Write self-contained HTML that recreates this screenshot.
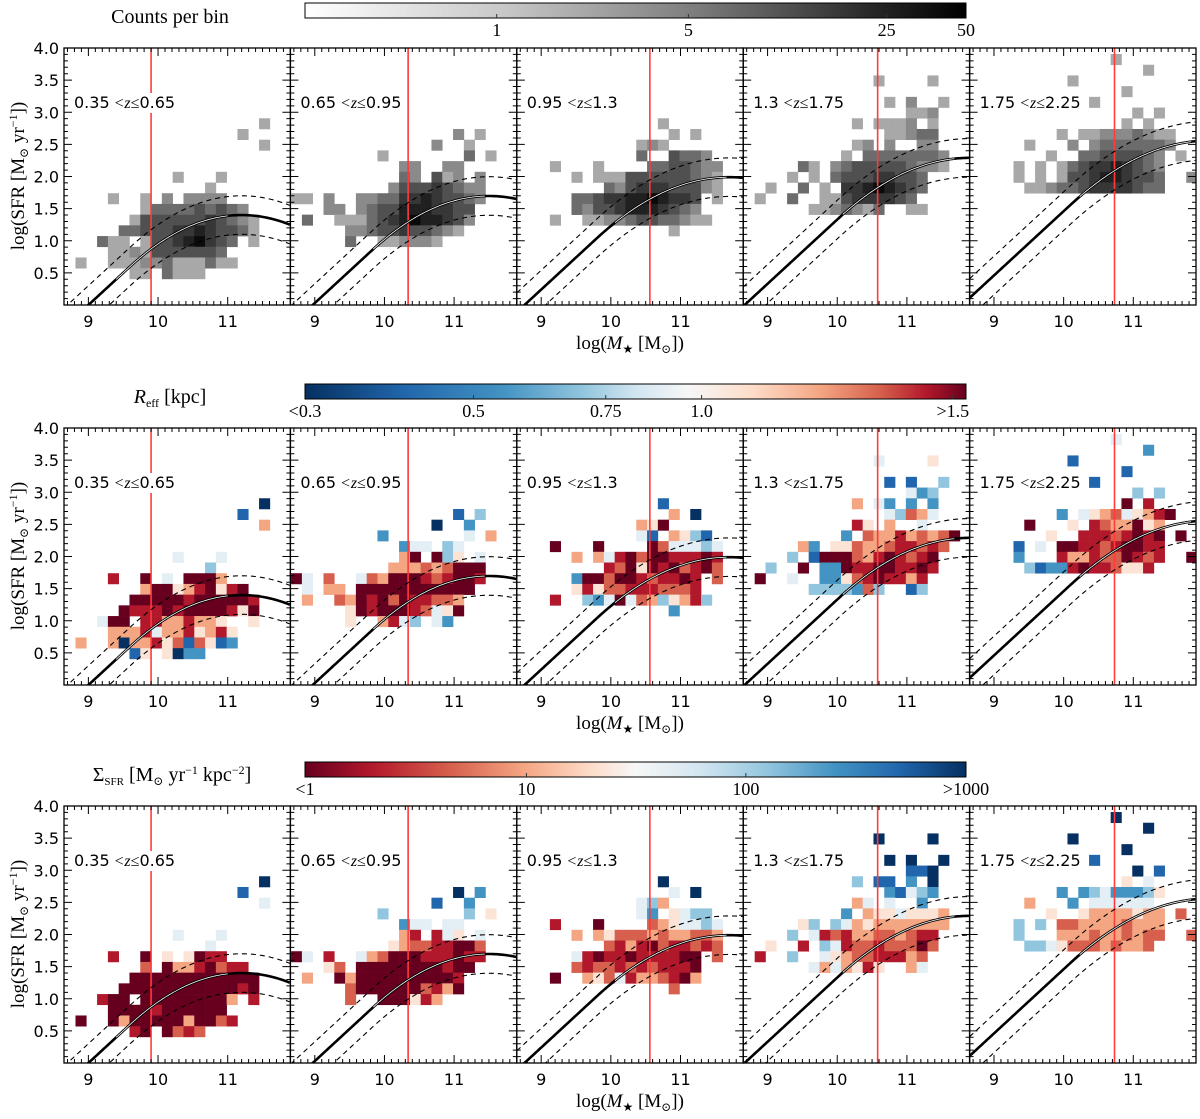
<!DOCTYPE html>
<html><head><meta charset="utf-8">
<style>
html,body{margin:0;padding:0;background:#fff;}
svg{display:block;}
.tk{font-family:"DejaVu Sans","Liberation Sans",sans-serif;font-size:16px;fill:#000;}
.sf{font-family:"Liberation Serif","DejaVu Serif",serif;fill:#000;}
</style></head>
<body>
<svg id="fig" width="1200" height="1119" viewBox="0 0 1200 1119" xmlns="http://www.w3.org/2000/svg">
<defs>
<linearGradient id="gCounts" x1="0" x2="1" y1="0" y2="0">
<stop offset="0" stop-color="#ffffff"/><stop offset="0.3" stop-color="#c8c8c8"/><stop offset="0.6" stop-color="#7a7a7a"/><stop offset="0.85" stop-color="#2a2a2a"/><stop offset="1" stop-color="#000000"/>
</linearGradient>
<linearGradient id="gReff" x1="0" x2="1" y1="0" y2="0">
<stop offset="0" stop-color="#053061"/><stop offset="0.15" stop-color="#2166ac"/><stop offset="0.3" stop-color="#4393c3"/><stop offset="0.42" stop-color="#92c5de"/><stop offset="0.5" stop-color="#d1e5f0"/><stop offset="0.58" stop-color="#f7f7f7"/><stop offset="0.68" stop-color="#fddbc7"/><stop offset="0.78" stop-color="#f4a582"/><stop offset="0.87" stop-color="#d6604d"/><stop offset="0.94" stop-color="#b2182b"/><stop offset="1" stop-color="#67001f"/>
</linearGradient>
<linearGradient id="gSig" x1="0" x2="1" y1="0" y2="0">
<stop offset="0" stop-color="#67001f"/><stop offset="0.1" stop-color="#b2182b"/><stop offset="0.22" stop-color="#d6604d"/><stop offset="0.33" stop-color="#f4a582"/><stop offset="0.43" stop-color="#fddbc7"/><stop offset="0.5" stop-color="#f7f7f7"/><stop offset="0.6" stop-color="#d1e5f0"/><stop offset="0.7" stop-color="#92c5de"/><stop offset="0.8" stop-color="#4393c3"/><stop offset="0.9" stop-color="#2166ac"/><stop offset="1" stop-color="#053061"/>
</linearGradient>
</defs>
<g id="layer"></g>
</svg>
<script>
// ---- data ----
const zLabels = ["0.35", "0.65", "0.95", "1.3", "1.75", "2.25"];
const redLineX = [9.9, 10.34, 10.56, 10.58, 10.73];
const msOffset = [0.0, 0.03, 0.24, 0.33, 0.46];
const msPeak = [11.2, 11.5, 11.7, 11.9, 12.1];
const msCurv = [0.3125, 0.3, 0.263, 0.266, 0.25];
const msScatter = 0.3;
const xTicks = [9, 10, 11];
const yTicks = [0.5, 1.0, 1.5, 2.0, 2.5, 3.0, 3.5, 4.0];
const countsTickVals = ["1", "5", "25", "50"];
const countsTickFrac = [0.29, 0.58, 0.88, 1.0];
const reffTickVals = ["<0.3", "0.5", "0.75", "1.0", ">1.5"];
const reffTickFrac = [0.0, 0.255, 0.455, 0.6, 0.98];
const sigTickVals = ["<1", "10", "100", ">1000"];
const sigTickFrac = [0.0, 0.335, 0.667, 1.0];
// cells: "row,startCol,values" (row/col = bin index; '.' = empty bin)
const countsCells = [
 ["16,18,3","15,16,3","14,18,3","11,10,3...3","10,13,3","9,4,3..3.4.4444","8,7,3555565654","7,6,366666676543","6,5,5566677876653","5,3,533.366789765.3","4,4,33436666665","3,1,3..333445333533","2,6,33.5333"],
 ["15,15,4.3","14,13,4..3","13,8,3.......5.3","12,10,44..44","11,10,54.634.4","10,9,466676544","9,0,33.4..445577876654","8,3,44.45668887766","7,1,5..3335678988764","6,5,44566766543","5,5,5..334443"],
 ["16,13,3","15,14,3.3","14,11,343","13,11,5..6554","12,3,3...3....5566544","11,5,3.333666666543","10,8,54677766643","9,5,556778898776.3","8,5,546678887654","7,3,3..334456655433","6,14,3"],
 ["20,12,3....3","18,13,3.4..3","17,15,334","16,10,3.3334.3","15,13,33455","14,10,34.4..44","13,9,3.55555554","12,5,53.45666665443","11,4,3.3.566677665","10,2,3..5.3.77898765","9,1,3..5..336777765","8,6,3345435..33"],
 ["22,13,3","21,16,3","20,9,3","19,14,3","18,11,3","17,15,3.3","16,14,3.3","15,8,3.334445433","14,5,3...4.45555554","13,7,3..55666654.3","12,4,3.3.3567787654","11,4,3.3.3667887665..4","10,5,3345567777655"]
];
const reffCells = [
 ["16,18,0","15,16,1","14,18,6","11,10,4...4","10,13,3","9,4,8..9.4.9996","8,7,6995689589","7,6,999998999998","6,5,9888989999859","5,3,499.88668665..5","4,4,666846685685","3,1,6..606685717512","2,6,15.5022"],
 ["15,15,1.3","14,13,0..2","13,8,2.......4.6","12,10,244.34","11,10,69.935.4","10,9,666767999","9,0,94.7..476999878998","8,1,4.66.99999999999","7,1,6..769897988776","6,5,59899987459","5,5,5..6843.42"],
 ["16,13,1","15,14,6.0","14,11,659","13,11,41.6531","12,3,9...9....9744434","11,5,6.648979988898","10,8,87959897897","9,5,299799878898.7","8,5,585778887778","7,3,8..324947635683","6,14,2"],
 ["20,12,4....5","18,13,1.1..3","17,15,423","16,10,6.42.2.2","15,13,43764","14,10,85.6..4","13,9,2.766867679","12,5,62.55766788787","11,4,3.199976898789","10,2,3..9.22988998898","9,1,9..4..2257898868","8,6,3333273..13"],
 ["22,13,4","21,16,2","20,9,1","19,14,1","18,11,1","17,15,3.3","16,14,9.8","15,8,2.456745689","14,5,9...5.8766956","13,7,5..88878989.9","12,4,1.4.9988789988","11,4,2...8668779878..9","10,5,312289887558"]
];
const sigmaCells = [
 ["16,18,0","15,16,1","14,18,4","11,10,4...4","10,13,4","9,4,8..9.5.5988","8,7,7.96689788","7,6,999999999999","6,5,9999999999989","5,3,899.999999996.8","4,4,99998999999","3,1,9..969999969978","2,6,89.9787"],
 ["15,15,0.2","14,13,1..2","13,8,3.......3.5","12,10,244.44","11,10,68.845.4","10,9,567788997","9,0,94.8..467999888988","8,3,57.99999999899","7,1,6..969999999998","6,5,79999997869","5,5,7..999586"],
 ["16,13,0","15,14,4.0","14,11,436","13,11,42.5433","12,3,8...9....7654434","11,5,6.657776766776","10,8,78689788787","9,5,489889888899.7","8,5,787787878889","7,3,9..65748667896","6,14,7"],
 ["20,12,0....0","18,13,0.0..0","17,15,110","16,10,3.11.2.0","15,13,21432","14,10,64.4..2","13,9,2.65545556","12,5,53.34656666666","11,4,3.487866776788","10,2,5..8.34877877797","9,1,8..3..4567788867","8,6,4646585..64"],
 ["22,13,0","21,16,0","20,9,0","19,14,0","18,11,1","17,15,0.1","16,14,5.4","15,8,2.23422235","14,5,6...2.444444","13,7,5..56666566.7","12,4,3.3.7766667666","11,4,3...6667667677..7","10,5,334577767667"]
];
// ---- styling / geometry ----
const grayPal = ["#eeeeee","#d6d6d6","#bfbfbf","#a8a8a8","#8a8a8a","#6c6c6c","#505050","#373737","#202020","#0a0a0a"];
const rdbuPal = ["#053061","#2166ac","#4393c3","#92c5de","#e3eef5","#fbe3d6","#f4a582","#d6604d","#b2182b","#67001f"];
const XMIN = 8.65, XMAX = 11.9, YMIN = 0, YMAX = 4;
const BIN_X0 = 8.66, BIN_DX = 0.155, BIN_Y0 = 0.073, BIN_DY = 1/6;
const L0 = 64, PW = 226.4, PH = 257, ROWTOP = [48, 428, 806];
const NS = "http://www.w3.org/2000/svg";
const layer = document.getElementById("layer");
function sx(p, x){ return L0 + p*PW + (x - XMIN) * PW / (XMAX - XMIN); }
function sy(r, y){ return ROWTOP[r] + PH - (y - YMIN) * PH / (YMAX - YMIN); }
function mk(tag, attrs, parent){
  const e = document.createElementNS(NS, tag);
  for (const k in attrs) e.setAttribute(k, attrs[k]);
  (parent || layer).appendChild(e);
  return e;
}
function ms(p, x){
  const a = msCurv[p], x1 = msPeak[p] - 1/(2*a);
  const d = Math.max(0, x - x1);
  return (x - 9) + msOffset[p] - a*d*d;
}
const defs = document.querySelector("defs");
const rowNames = ["counts", "reff", "sigma"];
const rowCells = [countsCells, reffCells, sigmaCells];
const rowPal = [grayPal, rdbuPal, rdbuPal];

for (let r = 0; r < 3; r++){
  for (let p = 0; p < 5; p++){
    const x0 = L0 + p*PW, y0 = ROWTOP[r];
    const cp = mk("clipPath", {id: "cp" + r + p}, defs);
    mk("rect", {x: x0, y: y0, width: PW, height: PH}, cp);
    const g = mk("g", {"clip-path": "url(#cp" + r + p + ")"});
    
    
    rowCells[r][p].forEach(function(spec){
      const parts = spec.split(",");
      const row = +parts[0], c0 = +parts[1], vals = parts[2];
      for (let k = 0; k < vals.length; k++){
        const ch = vals[k];
        if (ch === ".") continue;
        const col = c0 + k;
        const bx = BIN_X0 + col*BIN_DX, by = BIN_Y0 + row*BIN_DY;
        const X1 = sx(p, bx), X2 = sx(p, bx + BIN_DX);
        const Y1 = sy(r, by + BIN_DY), Y2 = sy(r, by);
        const rc = mk("rect", {x: X1.toFixed(2), y: Y1.toFixed(2), width: (X2-X1+0.3).toFixed(2), height: (Y2-Y1+0.3).toFixed(2), fill: rowPal[r][+ch]}, g);
        
        
      }
    });
    const rl = mk("line", {x1: sx(p, redLineX[p]), x2: sx(p, redLineX[p]), y1: y0, y2: y0 + PH, stroke: "#ff3b3b", "stroke-width": 1.6}, g);
    
    
    function pathFor(off, xa, xb){
      let d = "";
      for (let x = xa; x <= xb + 1e-9; x += 0.02){
        d += (d ? "L" : "M") + sx(p, x).toFixed(2) + "," + sy(r, ms(p, x) + off).toFixed(2);
      }
      return d;
    }
    const up = mk("path", {d: pathFor(msScatter, XMIN, XMAX), fill: "none", stroke: "#000", "stroke-width": 1.1, "stroke-dasharray": "5,4"}, g);
    
    
    const lo = mk("path", {d: pathFor(-msScatter, XMIN, XMAX), fill: "none", stroke: "#000", "stroke-width": 1.1, "stroke-dasharray": "5,4"}, g);
    
    
    const msl = mk("path", {d: pathFor(0, XMIN, XMAX), fill: "none", stroke: "#000", "stroke-width": 2.6}, g);
    
    
    const msw = mk("path", {d: pathFor(0, redLineX[p] - 0.5, Math.min(XMAX, redLineX[p] + 1.1)), fill: "none", stroke: "#fff", "stroke-width": 0.8}, g);
    
    
    const lx = x0 + 10, ly = y0 + 60;
    const lbg = mk("rect", {x: lx - 2, y: ly - 15, width: 100, height: 20, fill: "#fff"}, g);
    
    
    const t = mk("text", {x: lx, y: ly, class: "tk"}, g);
    
    
    t.innerHTML = zLabels[p] + '<tspan font-family="Liberation Serif,serif" font-style="italic" font-size="16"> &lt;z≤</tspan>' + zLabels[p+1];
    try { lbg.setAttribute("width", (t.getBBox().width + 3).toFixed(1)); } catch(e) {}
    const fr = mk("rect", {x: x0, y: y0, width: PW, height: PH, fill: "none", stroke: "#000", "stroke-width": 1.3});
    
    
    let td = "";
    for (let i = 87; i <= 119; i++){
      const x = i/10; if (x < XMIN || x > XMAX) continue;
      const X = sx(p, x), major = (i % 10 === 0), len = major ? 8 : 4;
      td += "M" + X + "," + (y0 + PH) + "v" + (-len) + "M" + X + "," + y0 + "v" + len;
    }
    for (let i = 1; i < 40; i++){
      const y = i/10, Y = sy(r, y), major = (i % 5 === 0), len = major ? 8 : 4;
      td += "M" + x0 + "," + Y + "h" + len + "M" + (x0 + PW) + "," + Y + "h" + (-len);
    }
    const tk = mk("path", {d: td, stroke: "#000", "stroke-width": 1, fill: "none"});
    
    
    xTicks.forEach(function(v){
      const tl = mk("text", {x: sx(p, v), y: y0 + PH + 22, class: "tk", "text-anchor": "middle"});
      
      
      tl.textContent = v;
    });
    if (p === 0){
      yTicks.forEach(function(v){
        const tl = mk("text", {x: x0 - 5, y: sy(r, v) + 6, class: "tk", "text-anchor": "end"});
        
        
        tl.textContent = v.toFixed(1);
      });
    }
  }
  const xt = mk("text", {x: 630, y: ROWTOP[r] + PH + 44, class: "sf", "font-size": 19, "text-anchor": "middle"});
  
  
  xt.innerHTML = 'log(<tspan font-style="italic">M</tspan><tspan font-size="12" dy="4">★</tspan><tspan dy="-4"> [M</tspan><tspan font-size="12" dy="4">⊙</tspan><tspan dy="-4">])</tspan>';
  const yc = ROWTOP[r] + 128;
  const yt = mk("text", {x: 0, y: 0, class: "sf", "font-size": 19, "text-anchor": "middle", transform: "translate(24," + yc + ") rotate(-90)"});
  
  
  yt.innerHTML = 'log(SFR [M<tspan font-size="12" dy="4">⊙</tspan><tspan dy="-4"> yr</tspan><tspan font-size="12" dy="-7">−1</tspan><tspan dy="7">])</tspan>';
}

function colorbar(name, y, fill, vals, fracs, titleHTML, titleX, titleY){
  const bx = 305, bw = 661, bh = 15;
  const g = mk("g", {});
  
  
  mk("rect", {x: bx, y: y, width: bw, height: bh, fill: fill, stroke: "#000", "stroke-width": 1}, g);
  vals.forEach(function(v, i){
    const X = bx + fracs[i]*bw;
    if (fracs[i] > 0.01 && fracs[i] < 0.99){
      const tkl = mk("line", {x1: X, x2: X, y1: y + bh, y2: y + bh - 4, stroke: "#333", "stroke-width": 1}, g);
      
      
    }
    const tl = mk("text", {x: X, y: y + bh + 18, class: "sf", "font-size": 18, "text-anchor": "middle"}, g);
    
    
    tl.textContent = v;
  });
  const tt = mk("text", {x: titleX, y: titleY, class: "sf", "font-size": 20, "text-anchor": "middle"}, g);
  
  
  tt.innerHTML = titleHTML;
}
colorbar("counts-colorbar", 3, "url(#gCounts)", countsTickVals, countsTickFrac, "Counts per bin", 170, 23);
colorbar("reff-colorbar", 384, "url(#gReff)", reffTickVals, reffTickFrac, '<tspan font-style="italic">R</tspan><tspan font-size="12" dy="4">eff</tspan><tspan dy="-4"> [kpc]</tspan>', 170, 403);
colorbar("sigma-sfr-colorbar", 762, "url(#gSig)", sigTickVals, sigTickFrac, 'Σ<tspan font-size="11" dy="4">SFR</tspan><tspan dy="-4"> [M</tspan><tspan font-size="12" dy="4">⊙</tspan><tspan dy="-4"> yr</tspan><tspan font-size="12" dy="-7">−1</tspan><tspan dy="7">  kpc</tspan><tspan font-size="12" dy="-7">−2</tspan><tspan dy="7">]</tspan>', 172, 781);
</script>
</body></html>
